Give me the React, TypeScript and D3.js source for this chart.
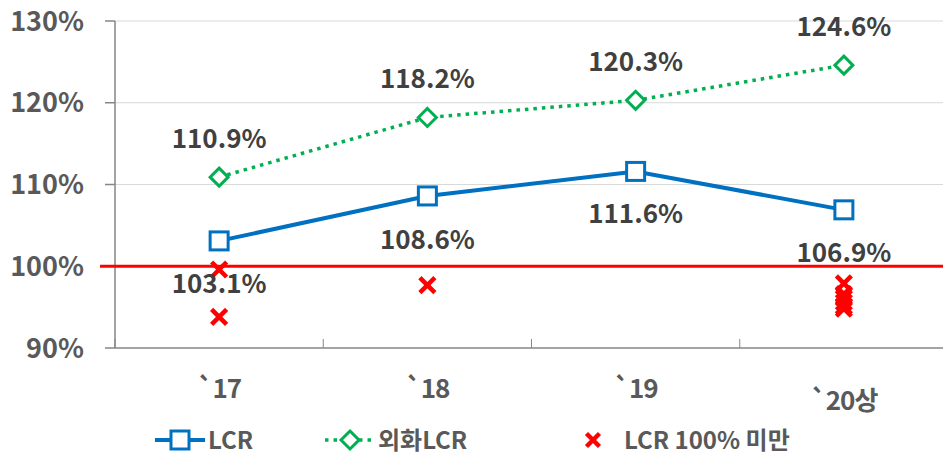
import React from "react";
import * as d3 from "d3";

const categories = ["`17", "`18", "`19", "`20상"];
const lcr = [103.1, 108.6, 111.6, 106.9];
const fxLcr = [110.9, 118.2, 120.3, 124.6];
const under100: [number, number][] = [
  [0, 99.6], [0, 93.8],
  [1, 97.7],
  [3, 97.9], [3, 96.6], [3, 96.1], [3, 95.6], [3, 95.1], [3, 94.8],
];
const yTicks = [90, 100, 110, 120, 130];

const W = 943, H = 455;
const FONT = "'Noto Sans CJK KR', 'Noto Sans', sans-serif";
const TXT = "#595959";
const LBL = "#404040";

export default function App() {
  const x = d3.scaleBand<string>().domain(categories).range([115, 948]);
  const cx = (c: string) => (x(c) as number) + x.bandwidth() / 2;
  const y = d3.scaleLinear().domain([90, 130]).range([348, 21]);
  const line = d3.line<[number, number]>().x(d => d[0]).y(d => d[1]);
  const lcrPts: [number, number][] = lcr.map((v, i) => [cx(categories[i]), y(v)]);
  const fxPts: [number, number][] = fxLcr.map((v, i) => [cx(categories[i]), y(v)]);
  const lcrLabelOffset = [43, 44, 42, 43];

  const xMark = (px: number, py: number, key: string, s = 7.5) => (
    <g key={key} stroke="#ff0000" strokeWidth={4.5}>
      <line x1={px - s} y1={py - s} x2={px + s} y2={py + s} />
      <line x1={px - s} y1={py + s} x2={px + s} y2={py - s} />
    </g>
  );
  const diamond = (px: number, py: number, r = 8) =>
    `M${px},${py - r}L${px + r},${py}L${px},${py + r}L${px - r},${py}Z`;

  return (
    <svg width={W} height={H} style={{ position: "absolute", left: 0, top: 0, background: "#fff" }} fontFamily={FONT}>
      {yTicks.filter(t => t > 100).map(t => (
        <line key={t} x1={115} x2={W} y1={y(t)} y2={y(t)} stroke="#d9d9d9" strokeWidth={1} />
      ))}
      <line x1={115} x2={115} y1={y(130)} y2={y(90)} stroke="#868686" strokeWidth={1.5} />
      {yTicks.map(t => (
        <g key={t}>
          <line x1={105} x2={115} y1={y(t)} y2={y(t)} stroke="#868686" strokeWidth={1.5} />
          <text x={84} y={y(t)} dy="0.36em" textAnchor="end" fontSize={27} fontWeight="bold" fill={TXT}>{t}%</text>
        </g>
      ))}
      <line x1={115} x2={W} y1={y(90)} y2={y(90)} stroke="#868686" strokeWidth={1.5} />
      {categories.map((c, i) => (
        <g key={c}>
          <line x1={x(c) as number} x2={x(c) as number} y1={y(90) - 9} y2={y(90)} stroke="#868686" strokeWidth={1} />
          <text x={cx(c)} y={i === 3 ? 410 : 398} textAnchor="middle" fontSize={26} fontWeight="bold" fill={TXT} letterSpacing={-1}>{c}</text>
        </g>
      ))}
      <line x1={100} x2={W} y1={y(100)} y2={y(100)} stroke="#ff0000" strokeWidth={3} />
      <path d={line(lcrPts) as string} fill="none" stroke="#0070c0" strokeWidth={4} />
      {lcrPts.map((p, i) => (
        <rect key={i} x={p[0] - 9} y={p[1] - 9} width={18} height={18} fill="#fff" stroke="#0070c0" strokeWidth={3} />
      ))}
      <path d={line(fxPts) as string} fill="none" stroke="#00b050" strokeWidth={3.5} strokeDasharray="3.5 5" />
      {fxPts.map((p, i) => (
        <path key={i} d={diamond(p[0], p[1], 9)} fill="#fff" stroke="#00b050" strokeWidth={3} />
      ))}
      {under100.map(([ci, v], k) => xMark(cx(categories[ci]), y(v), "x" + k))}
      {lcr.map((v, i) => (
        <text key={"l" + i} x={lcrPts[i][0]} y={lcrPts[i][1] + lcrLabelOffset[i]} dy="0.36em" textAnchor="middle" fontSize={26} fontWeight="bold" fill={LBL}>{v.toFixed(1)}%</text>
      ))}
      {fxLcr.map((v, i) => (
        <text key={"f" + i} x={fxPts[i][0]} y={fxPts[i][1] - 39} dy="0.36em" textAnchor="middle" fontSize={26} fontWeight="bold" fill={LBL}>{v.toFixed(1)}%</text>
      ))}
      <g>
        <line x1={155} x2={205} y1={440} y2={440} stroke="#0070c0" strokeWidth={4} />
        <rect x={171} y={431} width={18} height={18} fill="#fff" stroke="#0070c0" strokeWidth={3} />
        <text x={208} y={440} dy="0.36em" fontSize={24} fontWeight="bold" fill={TXT}>LCR</text>
        <line x1={325} x2={375} y1={440} y2={440} stroke="#00b050" strokeWidth={3.5} strokeDasharray="3.5 5" />
        <path d={diamond(350, 440, 9)} fill="#fff" stroke="#00b050" strokeWidth={3} />
        <text x={378} y={440} dy="0.36em" fontSize={24} fontWeight="bold" fill={TXT}>외화LCR</text>
        {xMark(593, 440, "lx", 6.5)}
        <text x={624} y={440} dy="0.36em" fontSize={24} fontWeight="bold" fill={TXT}>LCR 100% 미만</text>
      </g>
    </svg>
  );
}
